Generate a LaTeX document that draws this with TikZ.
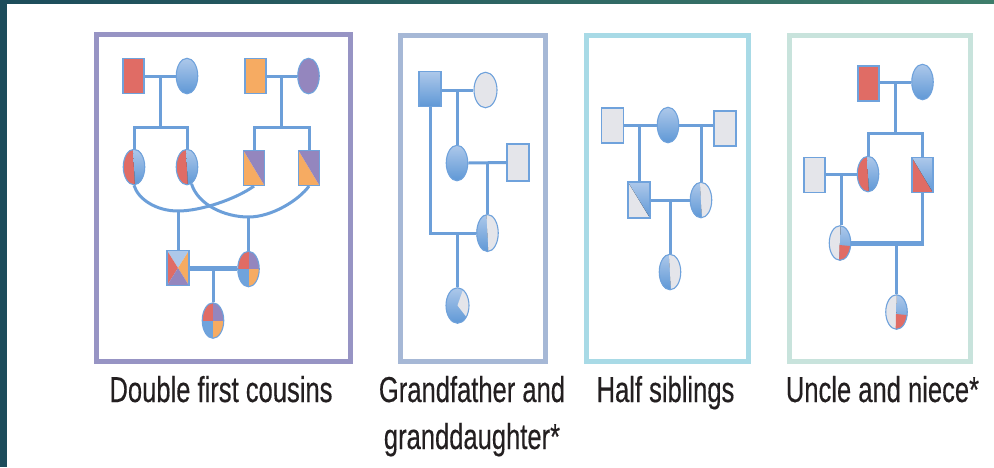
\documentclass[tikz,border=0pt]{standalone}
\usepackage{fontspec}
\newfontfamily\labelfont[FakeStretch=0.71,FakeBold=0.3]{Liberation Sans}
\usetikzlibrary{shapes.geometric,calc}
\definecolor{redp}{HTML}{E06C65}
\definecolor{orangep}{HTML}{F6AB62}
\definecolor{purplep}{HTML}{9486BE}
\definecolor{bluetop}{HTML}{ADC8EA}
\definecolor{bluebot}{HTML}{5F98D6}
\definecolor{bluemid}{HTML}{6FA3DC}
\definecolor{greyp}{HTML}{E4E5EA}
\definecolor{outl}{HTML}{6FA2DC}
\definecolor{linec}{HTML}{6C9FD9}
\definecolor{frameA}{HTML}{9794C4}
\definecolor{frameB}{HTML}{A6B8D6}
\definecolor{frameC}{HTML}{A8DAE6}
\definecolor{frameD}{HTML}{C8E3DC}
\definecolor{tealA}{HTML}{1C4C5B}
\definecolor{tealB}{HTML}{3E7D6B}
\definecolor{txt}{HTML}{231F20}
\newcommand\mkpp{\path (path picture bounding box.south west) coordinate (pSW)
  (path picture bounding box.north east) coordinate (pNE)
  (path picture bounding box.north west) coordinate (pNW)
  (path picture bounding box.south east) coordinate (pSE)
  (path picture bounding box.center) coordinate (pC)
  (path picture bounding box.north) coordinate (pN)
  (path picture bounding box.south) coordinate (pS);}
\tikzset{
  bgrad/.style={top color=bluetop, bottom color=bluebot},
  ind/.style={draw=outl, line width=1.1pt, inner sep=0pt},
  male/.style={ind, rectangle, minimum width=21pt, minimum height=35pt},
  female/.style={ind, ellipse, minimum width=21.5pt, minimum height=35.5pt},
  conn/.style={draw=linec, line width=3pt},
  thickconn/.style={draw=linec, line width=5pt},
  frame/.style={line width=5pt},
  lbl/.style={text=txt, font=\labelfont\fontsize{36}{44}\selectfont, anchor=base, inner sep=0pt},
  halflr/.style 2 args={path picture={\mkpp
    \fill[#1] (pSW) -- ($(pS)+(1pt,0pt)$) -- ($(pN)+(-1pt,0pt)$) -- (pNW) -- cycle;
    \fill[#2] (pSE) -- ($(pS)+(1pt,0pt)$) -- ($(pN)+(-1pt,0pt)$) -- (pNE) -- cycle;}},
  diag/.style 2 args={path picture={\mkpp
    \fill[#1] (pNW) -- (pSW) -- (pSE) -- cycle;
    \fill[#2] (pNW) -- (pNE) -- (pSE) -- cycle;}},
  quadsq/.style={path picture={\mkpp
    \fill[bluetop] (pNW) -- (pNE) -- (pC) -- cycle;
    \fill[redp] (pNW) -- (pSW) -- (pC) -- cycle;
    \fill[orangep] (pNE) -- (pSE) -- (pC) -- cycle;
    \fill[purplep] (pSW) -- (pSE) -- (pC) -- cycle;}},
  quadel/.style={path picture={\mkpp
    \fill[redp] (pNW) rectangle (pC);
    \fill[purplep] (pNE) rectangle (pC);
    \fill[bluemid] (pSW) rectangle (pC);
    \fill[orangep] (pSE) rectangle (pC);}},
  greywedge/.style={path picture={\mkpp
    \fill[bgrad] (pSW) rectangle (pNE);
    \fill[greyp] (pC) -- ($(pC)+(10.7pt,30.6pt)$) -- ($(pC)+(30pt,30.6pt)$) -- ($(pC)+(30pt,-22pt)$) -- ($(pC)+(17.1pt,-22pt)$) -- cycle;}},
  redwedge/.style={path picture={\mkpp
    \fill[greyp] (pSW) -- ($(pS)+(-0.5pt,0pt)$) -- ($(pN)+(0.5pt,0pt)$) -- (pNW) -- cycle;
    \fill[bgrad] (pSE) -- ($(pS)+(-0.5pt,0pt)$) -- ($(pN)+(0.5pt,0pt)$) -- (pNE) -- cycle;
    \fill[redp] ($(pC)+(-0.5pt,-2pt)$) -- ($(pC)+(20pt,-4pt)$) -- ($(pC)+(20pt,-25pt)$) -- ($(pC)+(-1pt,-25pt)$) -- cycle;}},
}
\begin{document}
\begin{tikzpicture}[x=1pt,y=-1pt]
\fill[white] (0,0) rectangle (994,467);
\useasboundingbox (0,0) rectangle (994,467);
\fill[tealA] (0,0) rectangle (7,467);
\shade[left color=tealA, right color=tealB] (0,0) rectangle (994,3.5);
% frames
\draw[frame, draw=frameA] (96.5,34.5) rectangle (350.5,361.5);
\draw[frame, draw=frameB] (400,35.5) rectangle (545.5,361.5);
\draw[frame, draw=frameC] (586.5,35.5) rectangle (748.5,361.5);
\draw[frame, draw=frameD] (789.5,35) rectangle (970.5,361);

% ---------- Box 1: double first cousins ----------
\node[male, fill=redp] (b1f1) at (133.5,76) {};
\node[female, bgrad] (b1m1) at (187,76) {};
\node[male, fill=orangep] (b1f2) at (255.5,76) {};
\node[female, fill=purplep] (b1m2) at (308.5,76) {};
\node[female, halflr={redp}{bgrad}] (b1c1) at (134,167) {};
\node[female, halflr={redp}{bgrad}] (b1c2) at (187,167) {};
\node[male, diag={orangep}{purplep}] (b1c3) at (254,168) {};
\node[male, diag={orangep}{purplep}] (b1c4) at (309,168) {};
\node[male, quadsq, minimum width=22pt] (b1s3) at (178,268) {};
\node[female, quadel] (b1f3) at (248.5,269) {};
\node[female, quadel] (b1ch) at (213,320.5) {};
\coordinate (b1sib) at (0,127);
\coordinate (b1j1) at (178,211);
\coordinate (b1j2) at (248.5,217);
\draw[conn] (b1f1.east) -- (b1m1.west) coordinate[midway] (b1mA);
\draw[conn] (b1f2.east) -- (b1m2.west) coordinate[midway] (b1mB);
\draw[conn] (b1mA) -- (b1mA |- b1sib);
\draw[conn] (b1mB) -- (b1mB |- b1sib);
\draw[conn] (b1c1.north) -- (b1c1 |- b1sib) -- (b1c2 |- b1sib) -- (b1c2.north);
\draw[conn] (b1c3.north) -- (b1c3 |- b1sib) -- (b1c4 |- b1sib) -- (b1c4.north);
\draw[conn] (b1c1.south) .. controls (138,199) and (156,211) .. (b1j1)
  .. controls (201,211) and (236,199) .. (b1c3.south);
\draw[conn] (b1c2.-75) .. controls (198,205) and (225,217) .. (b1j2)
  .. controls (272,217) and (299,200) .. (b1c4.south);
\draw[conn] (b1j1) -- (b1s3.north);
\draw[conn] (b1j2) -- (b1f3.north);
\draw[thickconn] (b1s3.east) -- (b1s3.east -| b1f3.west) coordinate[midway] (b1mC);
\draw[conn] (b1mC) -- (b1mC |- b1ch.north);

% ---------- Box 2: grandfather and granddaughter ----------
\node[male, bgrad, minimum width=22pt] (b2gf) at (430,89) {};
\node[female, fill=greyp, minimum width=23pt] (b2gm) at (485.5,90) {};
\node[female, bgrad] (b2d) at (457,163) {};
\node[male, fill=greyp, minimum width=22pt, minimum height=37pt] (b2h) at (518,162.5) {};
\node[female, halflr={bgrad}{greyp}, minimum height=37pt] (b2gd) at (487.5,233) {};
\node[female, greywedge, minimum width=23pt] (b2ggd) at (457.5,305.5) {};
\draw[conn] (b2gf.east |- b2gm) -- (b2gm.west) coordinate[midway] (b2mA);
\draw[conn] (b2mA) -- (b2mA |- b2d.north);
\draw[conn] (b2d.east) -- (b2h.west) coordinate[midway] (b2mB);
\draw[conn] (b2mB) -- (b2mB |- b2gd.north);
\draw[conn] (b2gf.south) -- (b2gf |- b2gd) -- (b2gd.west);
\draw[conn] (b2ggd |- b2gd) -- (b2ggd.north);

% ---------- Box 3: half siblings ----------
\node[male, fill=greyp, minimum width=22pt] (b3l) at (612.5,125.5) {};
\node[female, bgrad] (b3m) at (668,125) {};
\node[male, fill=greyp, minimum width=22pt] (b3r) at (725,128.5) {};
\node[male, diag={greyp}{bgrad}, minimum width=22pt, minimum height=36pt] (b3a) at (639,200) {};
\node[female, halflr={bgrad}{greyp}] (b3b) at (701,200) {};
\node[female, halflr={bgrad}{greyp}] (b3c) at (670,272) {};
\draw[conn] (b3l.east |- b3m) -- (b3m.west);
\draw[conn] (b3m.east) -- (b3m.east -| b3r.west);
\draw[conn] (b3a |- b3m) -- (b3a.north);
\draw[conn] (b3b |- b3m) -- (b3b.north);
\draw[conn] (b3a.east) -- (b3b.west) coordinate[midway] (b3mA);
\draw[conn] (b3mA) -- (b3mA |- b3c.north);

% ---------- Box 4: uncle and niece ----------
\node[male, fill=redp] (b4gf) at (868.5,83.5) {};
\node[female, bgrad] (b4gm) at (922.5,82) {};
\node[female, halflr={redp}{bgrad}] (b4f) at (868,174) {};
\node[male, diag={redp}{bgrad}] (b4m) at (922.5,175) {};
\node[male, fill=greyp] (b4sp) at (814.5,175) {};
\node[female, redwedge, minimum height=34.5pt] (b4d) at (840,243) {};
\node[female, redwedge, minimum height=34.5pt] (b4gc) at (896.5,312) {};
\coordinate (b4sib) at (0,133);
\draw[conn] (b4gf.east |- b4gm) -- (b4gm.west) coordinate[midway] (b4mA);
\draw[conn] (b4mA) -- (b4mA |- b4sib);
\draw[conn] (b4f.north) -- (b4f |- b4sib) -- (b4m |- b4sib) -- (b4m.north);
\draw[conn] (b4sp.east |- b4f) -- (b4f.west) coordinate[midway] (b4mB);
\draw[conn] (b4mB) -- (b4mB |- b4d.north);
\draw[conn] (b4m.south) -- ($(b4m |- b4d)+(0,-2)$);
\draw[thickconn] ($(b4m |- b4d)+(1.5,0)$) -- (b4d.east);
\draw[conn] (b4gc |- b4d) -- (b4gc.north);

% ---------- labels ----------
\node[lbl] (t1) at (221,402) {Double first cousins};
\node[lbl] (t2a) at (472,402) {Grandfather and};
\node[lbl] (t2b) at (472,449) {granddaughter*};
\node[lbl] (t3) at (665.5,402) {Half siblings};
\node[lbl] (t4) at (882.5,402) {Uncle and niece*};
\end{tikzpicture}
\end{document}
